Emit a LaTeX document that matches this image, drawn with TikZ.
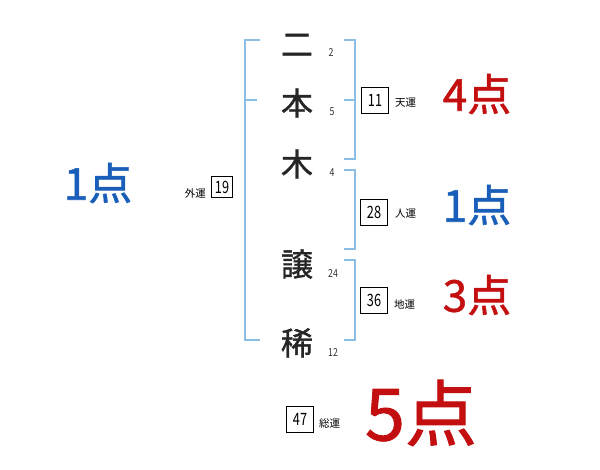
\documentclass[tikz,border=0pt]{standalone}
\usepackage{fontspec}
\setmainfont{Noto Sans CJK JP}
\newfontfamily\jp{Noto Sans CJK JP}
\newfontfamily\jpm[FakeBold=1.2]{Noto Sans CJK JP}
\definecolor{brk}{RGB}{140,190,228}
\definecolor{bluept}{RGB}{25,95,185}
\definecolor{redpt}{RGB}{195,15,15}
\tikzset{
  kanji/.style={font=\jpm\fontsize{32}{32}\selectfont, inner sep=0pt, text=black!85},
  stroke/.style={font=\jp\fontsize{11}{11}\selectfont, inner sep=0pt, xscale=0.8, text=black!80},
  numbox/.style={draw, line width=0.8pt, minimum width=27pt, minimum height=26pt, inner sep=0pt, font=\jp\fontsize{17}{17}\selectfont},
  unlabel/.style={font=\jp\fontsize{10.5}{10.5}\selectfont, inner sep=0pt},
  pts/.style={font=\jpm\fontsize{44}{44}\selectfont, inner sep=0pt},
  bline/.style={draw=brk, line width=2pt}
}
\begin{document}
\begin{tikzpicture}[x=1pt,y=-1pt]
\useasboundingbox (0,0) rectangle (600,470);
% brackets
\draw[bline] (260,40) -- (245,40) -- (245,340) -- (260,340);
\draw[bline] (245,100) -- (257,100);
\draw[bline] (344,40) -- (355,40) -- (355,159) -- (344,159);
\draw[bline] (344,100) -- (355,100);
\draw[bline] (344,170) -- (355,170) -- (355,249) -- (344,249);
\draw[bline] (344,260) -- (355,260) -- (355,340) -- (344,340);
% kanji
\node[kanji] (k1) at (297,45) {二};
\node[kanji] (k2) at (297,103) {本};
\node[kanji] (k3) at (297,164) {木};
\node[kanji] (k4) at (297,264) {譲};
\node[kanji] (k5) at (297,343) {稀};
\node[stroke] (s1) at (331,53) {2};
\node[stroke] (s2) at (332,112) {5};
\node[stroke] (s3) at (332,173) {4};
\node[stroke] (s4) at (333,274) {24};
\node[stroke] (s5) at (333,353) {12};
% boxes
\node[numbox] (b11) at (375,100) {\scalebox{0.75}[1]{11}};
\node[unlabel, anchor=west] (l11) at (395,103) {天運};
\node[numbox] (b28) at (374,212) {\scalebox{0.75}[1]{28}};
\node[unlabel, anchor=west] (l28) at (395,214) {人運};
\node[numbox] (b36) at (374,300) {\scalebox{0.75}[1]{36}};
\node[unlabel, anchor=west] (l36) at (394,304) {地運};
\node[numbox, minimum width=21pt, minimum height=21pt] (b19) at (222,187) {\scalebox{0.75}[1]{19}};
\node[unlabel, anchor=east] (l19) at (206,193) {外運};
\node[numbox] (b47) at (300,419) {\scalebox{0.75}[1]{47}};
\node[unlabel, anchor=west] (l47) at (319,423) {総運};
% points
\node[pts, text=bluept] (p0) at (98,183) {1点};
\node[pts, text=redpt] (p1) at (477,94) {4点};
\node[pts, text=bluept] (p2) at (477,205) {1点};
\node[pts, text=redpt] (p3) at (477,295) {3点};
\node[pts, text=redpt, font=\jpm\fontsize{72}{72}\selectfont] (p4) at (421,413) {5点};
\end{tikzpicture}
\end{document}
